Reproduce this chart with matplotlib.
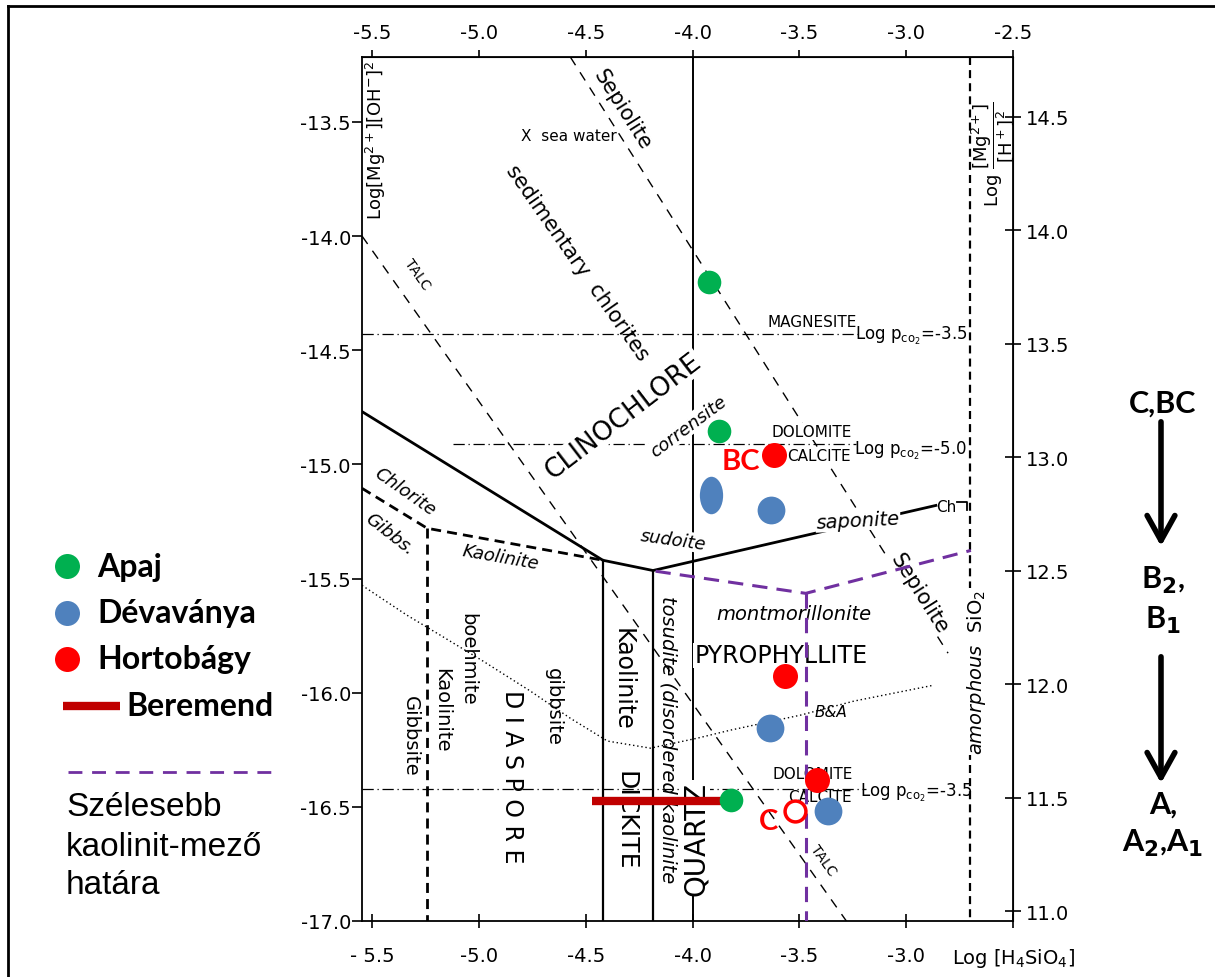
import matplotlib
matplotlib.use('Agg')
import matplotlib.pyplot as plt
from matplotlib.lines import Line2D
from matplotlib.patches import FancyArrowPatch
from matplotlib.path import Path
from matplotlib.transforms import Affine2D

# ---- sample points (log H4SiO4, log [Mg2+][OH-]2) ----
apaj_x = [-3.925, -3.878, -3.822]
apaj_y = [-14.200, -14.852, -16.470]
deva_x = [-3.915, -3.634, -3.639, -3.367]
deva_y = [-15.136, -15.202, -16.155, -16.518]
horto_x = [-3.620, -3.568, -3.418]
horto_y = [-14.961, -15.928, -16.383]
c_x = [-3.522]
c_y = [-16.518]
beremend_x = [-4.469, -3.822]
beremend_y = [-16.475, -16.475]

# ---- stability diagram boundaries ----
clino_x = [-5.547, -4.42, -4.185, -2.861]
clino_y = [-14.769, -15.42, -15.465, -15.180]
gibbs_x = [-5.547, -5.242, -4.42]
gibbs_y = [-15.105, -15.280, -15.42]
talc_x = [-5.547, -3.28]
talc_y = [-14.0, -17.0]
sepio_x = [-4.572, -2.804]
sepio_y = [-13.216, -15.827]
ba_x = [-5.547, -5.336, -5.181, -4.980, -4.759, -4.572, -4.398, -4.197,
        -3.976, -3.822, -3.493, -3.245, -2.870]
ba_y = [-15.530, -15.661, -15.748, -15.862, -15.993, -16.112, -16.212, -16.243,
        -16.199, -16.164, -16.098, -16.037, -15.967]
pco2_magnesite_x = [-5.547, -3.22]
pco2_magnesite_y = [-14.43, -14.43]
pco2_dolo5_x = [-5.12, -3.236]
pco2_dolo5_y = [-14.913, -14.913]
pco2_dolo35_x = [-5.547, -3.189]
pco2_dolo35_y = [-16.42, -16.42]
kaol_field_x = [-4.173, -3.470, -2.697]
kaol_field_y = [-15.468, -15.565, -15.377]
kaol_field_vx = [-3.470, -3.470]
kaol_field_vy = [-15.565, -17.0]
ch_bracket_x = [-2.760, -2.715, -2.715]
ch_bracket_y = [-15.165, -15.165, -15.20]

y_bottom, y_top = -17.0, -13.216

xt = [-5.5, -5.0, -4.5, -4.0, -3.5, -3.0, -2.5]
top_labels = ['-5.5', '-5.0', '-4.5', '-4.0', '-3.5', '-3.0', '-2.5']
bottom_labels = ['- 5.5', '-5.0', '-4.5', '-4.0', '-3.5', '-3.0', r'Log [H$_4$SiO$_4$]']
yt = [-17.0, -16.5, -16.0, -15.5, -15.0, -14.5, -14.0, -13.5]
left_labels = ['-17.0', '-16.5', '-16.0', '-15.5', '-15.0', '-14.5', '-14.0', '-13.5']
rt = [11.0, 11.5, 12.0, 12.5, 13.0, 13.5, 14.0, 14.5]
right_labels = ['11.0', '11.5', '12.0', '12.5', '13.0', '13.5', '14.0', '14.5']

GREEN = '#00B050'
BLUE = '#4F81BD'
RED = '#FF0000'
DARKRED = '#C00000'
PURPLE = '#7030A0'

W, H = 1215, 978
fig = plt.figure(figsize=(W / 100, H / 100), dpi=100)
ax = fig.add_axes([362 / W, 1 - 922 / H, 651 / W, 864 / H])
ax.set_xlim(-5.547, -2.5)
ax.set_ylim(y_bottom, y_top)
for s in ax.spines.values():
    s.set_linewidth(1.3)

ax.set_xticks(xt, bottom_labels, fontsize=14)
ax.set_yticks(yt, left_labels, fontsize=14)
ax.tick_params(axis='x', direction='inout', length=10, pad=13, width=1.2)
ax.tick_params(axis='y', direction='out', length=7, pad=1, width=1.2)

top = ax.secondary_xaxis('top')
top.set_xticks(xt, top_labels, fontsize=14)
top.tick_params(direction='out', length=5, pad=6, width=1.2)

a = (14.764 - 10.956) / (y_top - y_bottom)
b = 10.956 - a * y_bottom
right = ax.secondary_yaxis('right', functions=(lambda v: a * v + b, lambda v: (v - b) / a))
right.set_yticks(rt, right_labels, fontsize=14)
right.tick_params(direction='inout', length=12, pad=3, width=1.2)

# boundaries
ax.plot(clino_x, clino_y, color='black', lw=2.0, zorder=2)
ax.plot(gibbs_x, gibbs_y, color='black', lw=2.0, ls=(0, (3.6, 2.2)), zorder=2)
ax.plot([gibbs_x[1], gibbs_x[1]], [gibbs_y[1], y_bottom], color='black', lw=2.0,
        ls=(0, (3.6, 2.2)), zorder=2)
ax.plot([clino_x[1], clino_x[1]], [clino_y[1], y_bottom], color='black', lw=1.6, zorder=2)
ax.plot([clino_x[2], clino_x[2]], [clino_y[2], y_bottom], color='black', lw=1.6, zorder=2)
ax.plot([-4.0, -4.0], [y_top, y_bottom], color='black', lw=1.4, zorder=2)
ax.plot([-2.70, -2.70], [y_top, y_bottom], color='black', lw=1.6, ls=(0, (3.6, 2.3)), zorder=2)
ax.plot(talc_x, talc_y, color='black', lw=1.0, ls=(0, (7, 6)), zorder=2)
ax.plot(sepio_x, sepio_y, color='black', lw=1.0, ls=(0, (7, 6)), zorder=2)
ax.plot(ba_x, ba_y, color='black', lw=1.0, ls=(0, (1, 2)), zorder=2)
for px, py in [(pco2_magnesite_x, pco2_magnesite_y), (pco2_dolo5_x, pco2_dolo5_y),
               (pco2_dolo35_x, pco2_dolo35_y)]:
    ax.plot(px, py, color='black', lw=0.9, ls=(0, (9, 3, 1, 3)), zorder=2)
ax.plot(ch_bracket_x, ch_bracket_y, color='black', lw=1.3, zorder=2)

ax.plot(kaol_field_x, kaol_field_y, color=PURPLE, lw=2.2, ls=(0, (5, 3)), zorder=6)
ax.plot(kaol_field_vx, kaol_field_vy, color=PURPLE, lw=2.2, ls=(0, (5, 3)), zorder=6)

# labels inside the diagram
wb = dict(facecolor='white', edgecolor='none', pad=0.5)
def lab(x, y, s, size=13, rot=0, style='normal', box=False, **kw):
    ax.text(x, y, s, fontsize=size, rotation=rot, style=style, ha='center', va='center',
            rotation_mode='anchor', bbox=wb if box else None, zorder=4, **kw)

lab(-4.581, -13.561, 'X  sea water', 11)
lab(-4.330, -13.443, 'Sepiolite', 15, -57.7, box=True)
lab(-4.539, -14.112, 'sedimentary  chlorites', 15, -55)
lab(-5.290, -14.165, 'TALC', 10, -54.6, box=True)
lab(-3.390, -16.733, 'TALC', 10, -54.6, box=True)
lab(-3.442, -14.375, 'MAGNESITE', 11)
lab(-2.978, -14.432, r'Log p$_{\mathrm{co}_2}$=-3.5', 12)
lab(-3.442, -14.856, 'DOLOMITE', 11, box=True)
lab(-3.409, -14.961, 'CALCITE', 11, box=True)
lab(-2.978, -14.939, r'Log p$_{\mathrm{co}_2}$=-5.0', 12)
lab(-2.814, -15.184, 'Ch', 11)
lab(-3.226, -15.245, 'saponite', 14, 3, 'italic', box=True)
lab(-4.323, -14.786, 'CLINOCHLORE', 19, 37.5, box=True)
lab(-4.018, -14.830, 'corrensite', 13, 36.7, 'italic', box=True)
lab(-4.089, -15.329, 'sudoite', 13, -8, 'italic', box=True)
lab(-5.345, -15.119, 'Chlorite', 13, -35, 'italic')
lab(-5.416, -15.302, 'Gibbs.', 13, -38, 'italic')
lab(-4.900, -15.403, 'Kaolinite', 13, -10, 'italic')
lab(-4.117, -16.203, 'tosudite (disordered kaolinite', 14, -90, 'italic')
lab(-4.328, -15.937, 'Kaolinite', 17, -90)
lab(-4.314, -16.558, 'DICKITE', 18, -90)
lab(-4.844, -16.365, 'D I A S P O R E', 17, -90)
lab(-4.651, -16.059, 'gibbsite', 14, -90)
lab(-5.050, -15.851, 'boehmite', 14, -90)
lab(-5.176, -16.072, 'Kaolinite', 14, -90)
lab(-5.322, -16.186, 'Gibbsite', 14, -90)
lab(-3.587, -15.836, 'PYROPHYLLITE', 17, box=True)
lab(-3.526, -15.652, 'montmorillonite', 14, 0, 'italic')
lab(-3.353, -16.081, 'B&A', 11, 0, 'italic')
lab(-3.437, -16.352, 'DOLOMITE', 11)
lab(-3.404, -16.453, 'CALCITE', 11)
lab(-2.954, -16.435, r'Log p$_{\mathrm{co}_2}$=-3.5', 12)
lab(-3.986, -16.637, 'QUARTZ', 20, 90, box=True)
lab(-2.940, -15.565, 'Sepiolite', 15, -57.7, box=True)
lab(-2.673, -15.906, r'$amorphous$  SiO$_2$', 14, 90, box=True)
lab(-5.481, -13.574, r'Log[Mg$^{2+}$][OH$^{-}$]$^2$', 13, 90)
lab(-2.592, -13.640, r'Log $\dfrac{[\mathrm{Mg}^{2+}]}{[\mathrm{H}^+]^2}$', 13, 90)

# measured samples
ax.plot(beremend_x, beremend_y, color=DARKRED, lw=6, solid_capstyle='butt', zorder=7)
ax.plot(apaj_x, apaj_y, 'o', color=GREEN, ms=17, mec='none', zorder=8)
ell = Path.unit_circle().transformed(Affine2D().scale(0.62, 1.0))
ax.plot(deva_x[:1], deva_y[:1], marker=ell, ls='none', color=BLUE, ms=27, mec='none', zorder=8)
ax.plot(deva_x[1:], deva_y[1:], 'o', color=BLUE, ms=20, mec='none', zorder=8)
ax.plot(horto_x, horto_y, 'o', color=RED, ms=18, mec='none', zorder=8)
ax.plot(c_x, c_y, 'o', mfc='white', mec=RED, mew=2.5, ms=15, zorder=8)
ax.text(-3.775, -14.987, 'BC', color=RED, fontsize=21, fontweight='bold', family='Lato',
        ha='center', va='center', zorder=9)
ax.text(-3.643, -16.562, 'C', color=RED, fontsize=21, fontweight='bold', family='Lato',
        ha='center', va='center', zorder=9)

# legend on the left (figure pixels)
def fx(px):
    return px / W
def fy(py):
    return 1 - py / H

leg = [('Apaj', GREEN, 567), ('Dévaványa', BLUE, 614), ('Hortobágy', RED, 660)]
for name, col, py in leg:
    fig.add_artist(Line2D([fx(67)], [fy(py)], marker='o', color=col, ms=18, mec='none'))
    fig.text(fx(97), fy(py), name, fontsize=23, fontweight='bold', family='Lato', va='center')
fig.add_artist(Line2D([fx(63), fx(120)], [fy(707), fy(707)], color=DARKRED, lw=6,
                      solid_capstyle='butt'))
fig.text(fx(126), fy(707), 'Beremend', fontsize=23, fontweight='bold', family='Lato', va='center')
fig.add_artist(Line2D([fx(68), fx(272)], [fy(773), fy(773)], color=PURPLE, lw=2,
                      ls=(0, (5, 3.5))))
for i, line in enumerate(['Szélesebb', 'kaolinit-mező', 'határa']):
    fig.text(fx(66), fy(808 + 39 * i), line, fontsize=24, family='Liberation Sans', va='center')

# evolution arrows on the right
rk = dict(fontsize=22, fontweight='bold', family='Lato', ha='center', va='center')
fig.text(fx(1163), fy(404), 'C,BC', **rk)
fig.text(fx(1163), fy(580), r'B$_\mathbf{2}$,', **rk)
fig.text(fx(1163), fy(620), r'B$_\mathbf{1}$', **rk)
fig.text(fx(1163), fy(805), 'A,', **rk)
fig.text(fx(1163), fy(843), r'A$_\mathbf{2}$,A$_\mathbf{1}$', **rk)
for y0, y1 in [(420, 550), (655, 787)]:
    fig.add_artist(FancyArrowPatch((fx(1161), fy(y0)), (fx(1161), fy(y1)),
                                   transform=fig.transFigure,
                                   arrowstyle='->,head_length=0.9,head_width=0.5',
                                   lw=4, color='black', mutation_scale=20))

# frame around the picture
fig.add_artist(Line2D([fx(8), fx(8)], [fy(7), 0], color='black', lw=2))
fig.add_artist(Line2D([fx(8), 1], [fy(7), fy(7)], color='black', lw=2))

fig.savefig('out.png', dpi=100)
